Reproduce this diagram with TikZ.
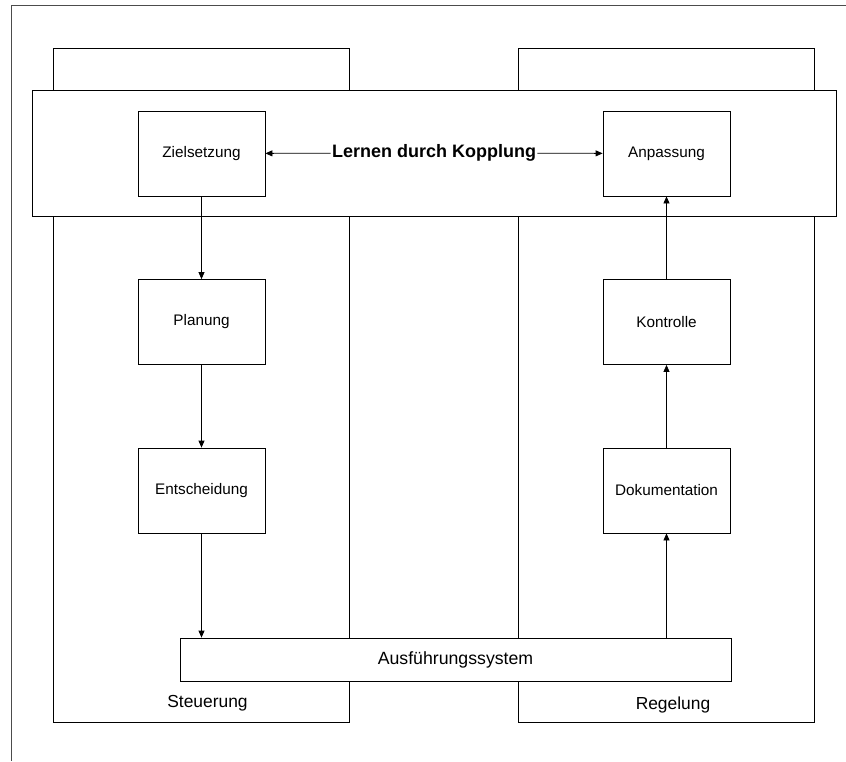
\documentclass[tikz,border=0pt]{standalone}
\usepackage{fontspec}
\setmainfont{Liberation Sans}
\usetikzlibrary{positioning,arrows.meta}

\begin{document}
\begin{tikzpicture}[x=1pt,y=-1pt,line width=0.8pt,
	frame/.style={draw=black!70},
	column/.style={draw, rectangle, minimum width=296pt, minimum height=674pt},
	band/.style={draw, fill=white, rectangle, minimum width=804pt, minimum height=126pt},
	stage/.style={draw, fill=white, rectangle, minimum width=127pt, minimum height=85pt, font=\fontsize{15.3}{18}\selectfont},
	system/.style={draw, fill=white, rectangle, minimum width=551pt, minimum height=43pt, font=\fontsize{17.7}{20}\selectfont},
	caption/.style={font=\fontsize{17.4}{20}\selectfont},
	flow/.style={-{Triangle[length=7pt,width=6pt]}}]
			\useasboundingbox (0,0) rectangle (846,761);
			\draw[frame] (846,5) -- (11,5) -- (11,761);
			
			\node[column](lcol) at (201,385) {};
			\node[column](rcol) at (666.5,385) {};
			\node[band](couple) at (434,153) {};
			
			\node[stage](ziel) at (201.5,153.5) {Zielsetzung};
			\node[stage](plan) at (201.5,322) {Planung};
			\node[stage](ent) at (201.5,490.5) {Entscheidung};
			\node[stage](anp) at (666.5,153.5) {Anpassung};
			\node[stage](kon) at (666.5,322) {Kontrolle};
			\node[stage](dok) at (666.5,490.5) {Dokumentation};
			\node[system](aus) at (455.5,659.5) {Ausführungssystem};
			
			\node[inner sep=1pt, font=\fontsize{18}{21}\selectfont\bfseries](lern) at (434,153) {Lernen durch Kopplung};
			\node[caption](steu) at (207.5,703) {Steuerung};
			\node[caption](reg) at (673,705) {Regelung};
			
			\draw[flow] (lern) -- (ziel);
			\draw[flow] (lern) -- (anp);
			\draw[flow] (ziel) -- (plan);
			\draw[flow] (plan) -- (ent);
			\draw[flow] (ent.south) -- (ent.south |- aus.north);
			\draw[flow] (dok.south |- aus.north) -- (dok.south);
			\draw[flow] (dok) -- (kon);
			\draw[flow] (kon) -- (anp);
		\end{tikzpicture}
\end{document}
